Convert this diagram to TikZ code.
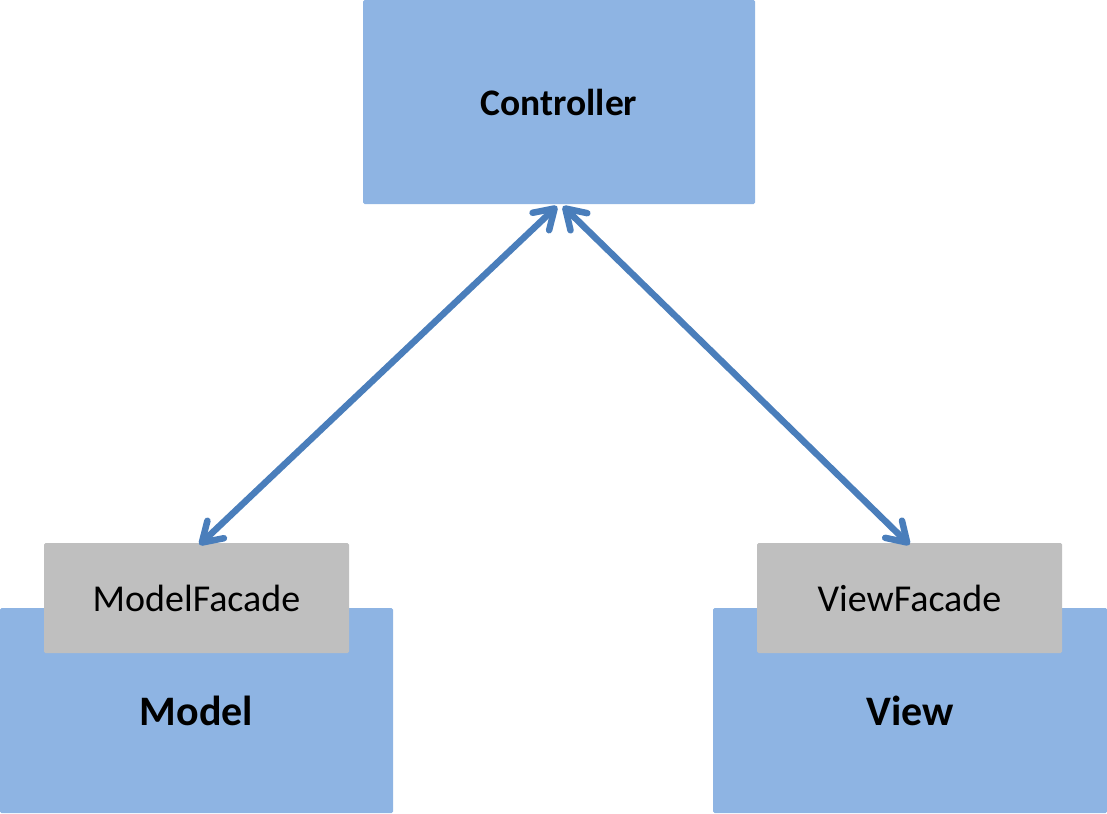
\documentclass[tikz,border=0pt]{standalone}
\usepackage{fontspec}
\setmainfont{Carlito}
\usetikzlibrary{arrows.meta,calc}
\definecolor{boxblue}{HTML}{8EB4E3}
\definecolor{facadegray}{HTML}{BFBFBF}
\definecolor{linkblue}{HTML}{4A7EBB}
\begin{document}
\begin{tikzpicture}[x=1pt,y=-1pt,
  layer/.style={fill=boxblue,draw=none,rounded corners=1.5pt,inner sep=0pt,
    font=\fontsize{42}{44}\selectfont\bfseries},
  facade/.style={fill=facadegray,draw=none,rounded corners=1.5pt,inner sep=0pt,
    minimum width=305pt,minimum height=110pt,font=\fontsize{38}{40}\selectfont},
  link/.style={draw=linkblue,line width=6.5pt,
    {Straight Barb[length=19pt,width=24pt,round]}-{Straight Barb[length=19pt,width=24pt,round]}}]
  \useasboundingbox (0,0) rectangle (1107,813);
  % main layers
  \node[layer,minimum width=392pt,minimum height=204pt,font=\fontsize{37.5}{40}\selectfont\bfseries] (ctrl) at (559,102) {Controller};
  \node[layer,minimum width=393pt,minimum height=205pt] (model) at (196.5,710.5) {Model};
  \node[layer,minimum width=394pt,minimum height=205pt] (view) at (910,710.5) {View};
  % facades sitting on top of model and view
  \node[facade] (mf) at (196.5,598) {ModelFacade};
  \node[facade] (vf) at (909.5,598) {ViewFacade};
  % communication links
  \draw[link] ($(mf.north)+(3,2)$) -- ($(ctrl.south)+(-2,2)$);
  \draw[link] ($(ctrl.south)+(4,2)$) -- ($(vf.north)+(0,2)$);
\end{tikzpicture}
\end{document}
